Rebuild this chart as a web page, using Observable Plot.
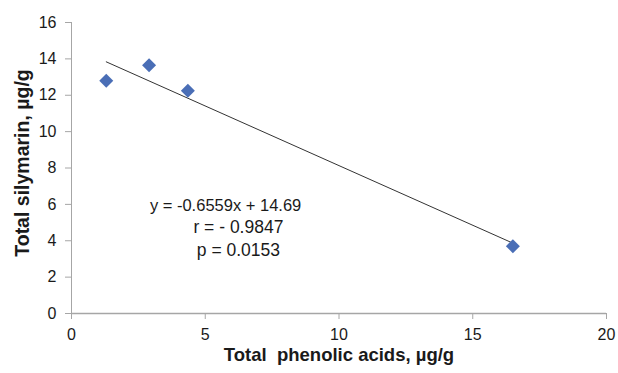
<!DOCTYPE html>
<html>
<head>
<meta charset="utf-8">
<script src="https://cdn.jsdelivr.net/npm/d3@7"></script>
<script src="https://cdn.jsdelivr.net/npm/@observablehq/plot@0.6"></script>
<style>
  html, body { margin: 0; padding: 0; background: #fff; }
  #chart svg { display: block; }
</style>
</head>
<body>
<div id="chart"></div>
<script>
const phenolic = [1.3, 2.9, 4.35, 16.5];
const silymarin = [12.8, 13.65, 12.25, 3.7];
const slope = -0.6559;
const intercept = 14.69;
const eqLine = "y = -0.6559x + 14.69";
const rLine = "r = - 0.9847";
const pLine = "p = 0.0153";
const xTicks = [0, 5, 10, 15, 20];
const yTicks = [0, 2, 4, 6, 8, 10, 12, 14, 16];
const xTitle = "Total\u00a0 phenolic acids, µg/g";
const yTitle = "Total silymarin, µg/g";

const points = phenolic.map((x, i) => ({x, y: silymarin[i]}));
const xExt = d3.extent(phenolic);
const fit = xExt.map(x => ({x, y: slope * x + intercept}));

const font = "Arial, 'Liberation Sans', sans-serif";
const axisColor = "#a6a6a6";
const ink = "#1a1a1a";

const chart = Plot.plot({
  width: 618,
  height: 373,
  marginLeft: 71,
  marginRight: 12,
  marginTop: 22,
  marginBottom: 60,
  style: {fontFamily: font, fontSize: "16px", color: ink, background: "#fff"},
  x: {domain: [0, 20]},
  y: {domain: [0, 16]},
  marks: [
    Plot.ruleX([0], {stroke: axisColor, strokeWidth: 1}),
    Plot.ruleY([0], {stroke: axisColor, strokeWidth: 1.5}),
    Plot.axisY({ticks: yTicks, tickSize: 6, tickPadding: 9, stroke: axisColor, fill: ink, fontSize: 16, label: null}),
    Plot.axisX({ticks: xTicks, tickSize: 6, tickPadding: 9, stroke: axisColor, fill: ink, fontSize: 16, label: null}),
    Plot.line(fit, {x: "x", y: "y", stroke: "#333", strokeWidth: 1}),
    Plot.dot(points, {x: "x", y: "y", symbol: "diamond2", r: 6.3, fill: "#4a6eb6", stroke: "none"}),
    Plot.text([eqLine], {x: 5.76, y: 4.74, dy: -22, text: d => d, fontSize: 16.5, fill: ink, textAnchor: "middle"}),
    Plot.text([rLine], {x: 6.24, y: 4.74, dy: 0, text: d => d, fontSize: 17.5, fill: ink, textAnchor: "middle"}),
    Plot.text([pLine], {x: 6.24, y: 4.74, dy: 23, text: d => d, fontSize: 17.5, fill: ink, textAnchor: "middle"}),
    Plot.text([xTitle], {frameAnchor: "bottom", dy: 47, text: d => d, fontWeight: "bold", fontSize: 18.5, fill: ink}),
    Plot.text([yTitle], {frameAnchor: "left", dx: -49, dy: -5, rotate: -90, textAnchor: "middle", text: d => d, fontWeight: "bold", fontSize: 19.5, fill: ink})
  ]
});
document.getElementById("chart").append(chart);
</script>
</body>
</html>
